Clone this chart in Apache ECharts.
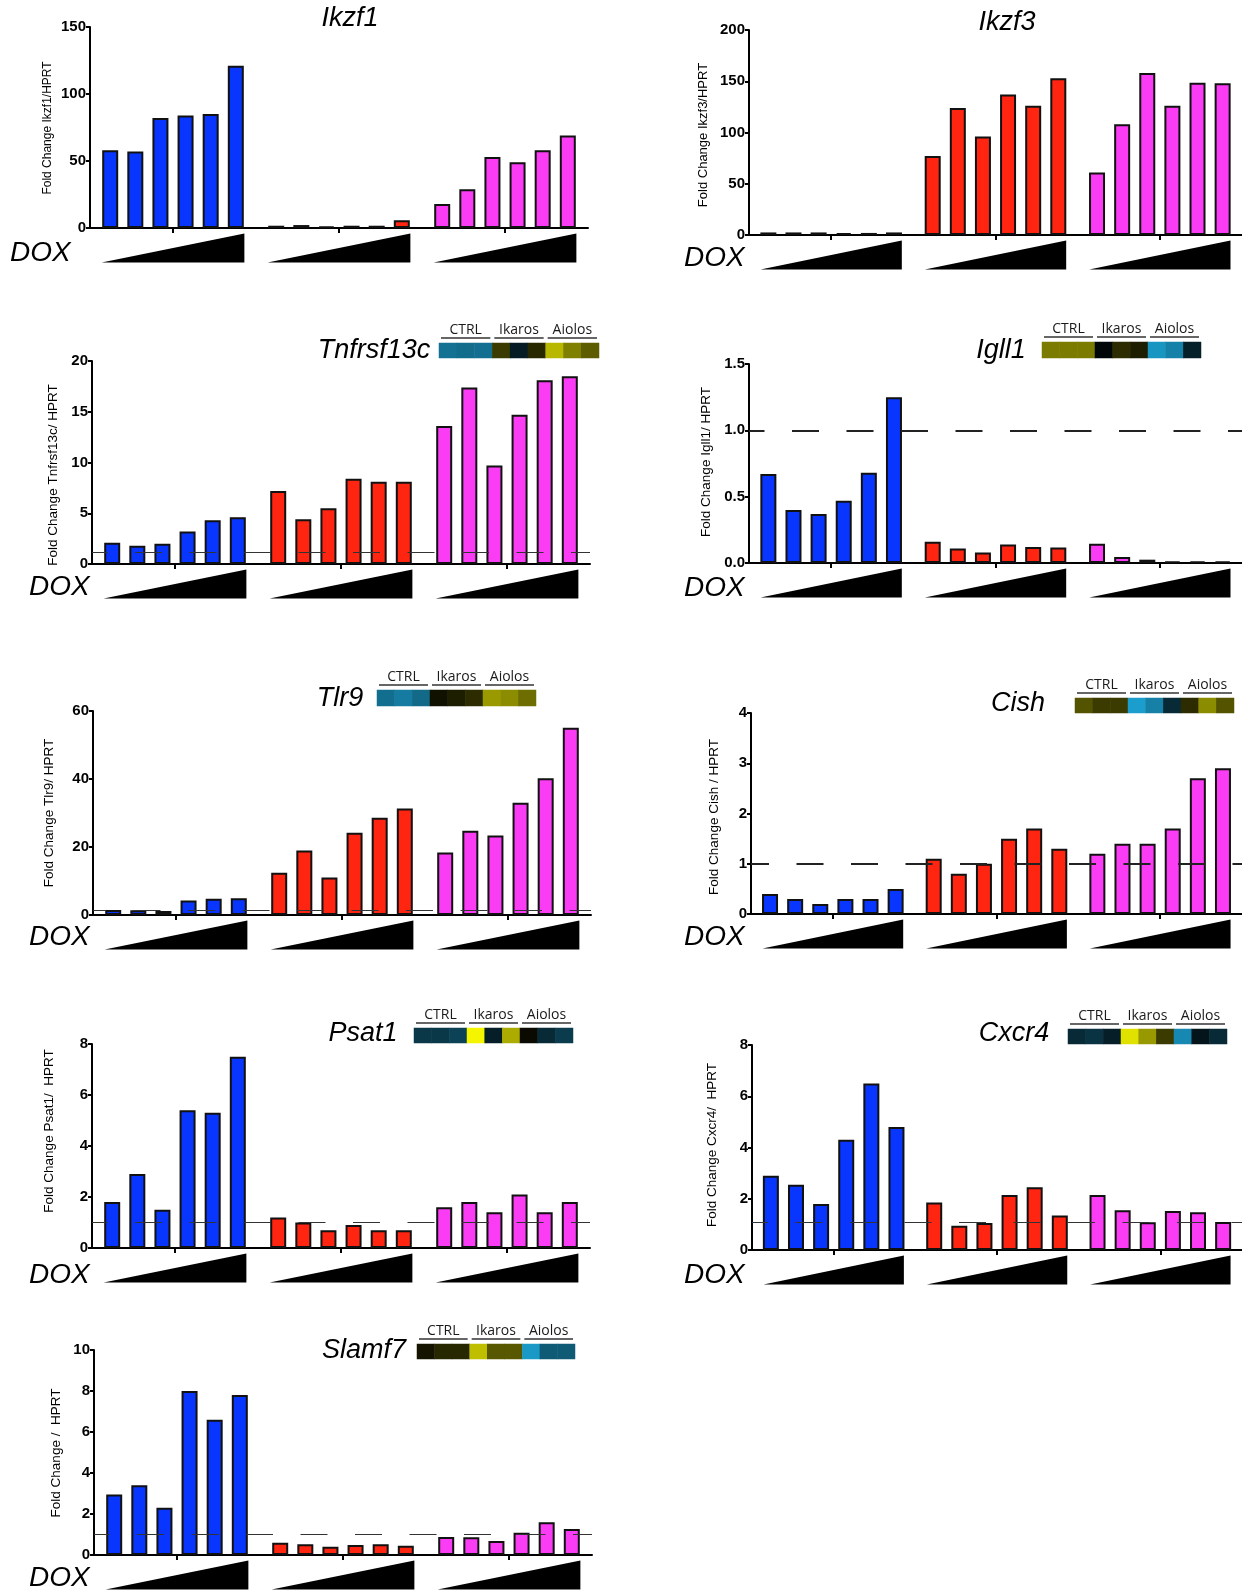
<!DOCTYPE html>
<html><head><meta charset="utf-8">
<script src="https://cdn.jsdelivr.net/npm/echarts@6/dist/echarts.min.js"></script>
<style>html,body{margin:0;padding:0;background:#fff}#c{width:1242px;height:1591px}</style>
</head><body><div id="c"></div>
<script>
// ---------- DATA ----------
const groups = ['CTRL', 'Ikaros', 'Aiolos'];
const doseLevels = ['d1', 'd2', 'd3', 'd4', 'd5', 'd6'];
const doseMax = [1, 1, 1];
const stripLabels = ['CTRL', 'Ikaros', 'Aiolos'];

const ikzf1Blue = [58, 57, 82, 84, 85, 121];
const ikzf1Red  = [1.7, 2.2, 1.0, 1.7, 1.7, 5.7];
const ikzf1Pink = [18, 29, 53, 49, 58, 69];
const ikzf1Ticks = [0, 50, 100, 150];

const ikzf3Blue = [2.5, 2.5, 2.5, 1.8, 2.0, 2.5];
const ikzf3Red  = [77, 124, 96, 137, 126, 153];
const ikzf3Pink = [61, 108, 158, 126, 148.5, 148];
const ikzf3Ticks = [0, 50, 100, 150, 200];

const tnfBlue = [2.1, 1.8, 2.0, 3.2, 4.3, 4.6];
const tnfRed  = [7.2, 4.4, 5.5, 8.4, 8.1, 8.1];
const tnfPink = [13.6, 17.4, 9.7, 14.7, 18.1, 18.5];
const tnfTicks = [0, 5, 10, 15, 20];
const tnfStrip = [-0.68, -0.65, -0.67, 0.24, -0.17, 0.16, 0.75, 0.52, 0.38];

const igll1Blue = [0.67, 0.40, 0.37, 0.47, 0.68, 1.25];
const igll1Red  = [0.16, 0.11, 0.08, 0.14, 0.12, 0.117];
const igll1Pink = [0.145, 0.045, 0.025, 0.01, 0.012, 0.012];
const igll1Ticks = [0, 0.5, 1.0, 1.5];
const igll1Strip = [0.5, 0.5, 0.5, -0.04, 0.18, 0.12, -0.9, -0.78, -0.19];

const tlr9Blue = [1.5, 1.4, 1.2, 4.3, 4.8, 4.9];
const tlr9Red  = [12.4, 19.0, 11.0, 24.2, 28.6, 31.3];
const tlr9Pink = [18.4, 24.8, 23.4, 33.0, 40.2, 55.1];
const tlr9Ticks = [0, 20, 40, 60];
const tlr9Strip = [-0.66, -0.74, -0.63, 0.07, 0.12, 0.18, 0.63, 0.57, 0.45];

const cishBlue = [0.4, 0.3, 0.2, 0.3, 0.3, 0.5];
const cishRed  = [1.1, 0.8, 1.0, 1.5, 1.7, 1.3];
const cishPink = [1.2, 1.4, 1.4, 1.7, 2.7, 2.9];
const cishTicks = [0, 1, 2, 3, 4];
const cishStrip = [0.34, 0.24, 0.24, -0.95, -0.77, -0.25, 0.18, 0.57, 0.34];

const psat1Blue = [1.8, 2.9, 1.5, 5.4, 5.3, 7.5];
const psat1Red  = [1.2, 1.0, 0.7, 0.9, 0.7, 0.7];
const psat1Pink = [1.6, 1.8, 1.4, 2.1, 1.4, 1.8];
const psat1Ticks = [0, 2, 4, 6, 8];
const psat1Strip = [-0.34, -0.34, -0.4, 1.0, -0.18, 0.7, 0.04, -0.25, -0.36];

const cxcr4Blue = [2.9, 2.55, 1.8, 4.3, 6.5, 4.8];
const cxcr4Red  = [1.85, 0.95, 1.05, 2.15, 2.45, 1.35];
const cxcr4Pink = [2.15, 1.55, 1.08, 1.52, 1.47, 1.09];
const cxcr4Ticks = [0, 2, 4, 6, 8];
const cxcr4Strip = [-0.25, -0.31, -0.18, 0.92, 0.62, 0.24, -0.82, -0.12, -0.25];

const slamf7Blue = [2.95, 3.4, 2.3, 8.0, 6.6, 7.8];
const slamf7Red  = [0.6, 0.52, 0.4, 0.49, 0.53, 0.45];
const slamf7Pink = [0.88, 0.86, 0.68, 1.09, 1.6, 1.27];
const slamf7Ticks = [0, 2, 4, 6, 8, 10];
const slamf7Strip = [0.08, 0.16, 0.16, 0.78, 0.36, 0.36, -0.92, -0.54, -0.54];

// ---------- LAYOUT / STYLE ----------
const groupColors = ['#0836FF', '#FF2510', '#FA3DF4'];
const W = 498;
const panels = [
  {gene:'Ikzf1', yName:'Fold Change Ikzf1/HPRT', vals:[ikzf1Blue, ikzf1Red, ikzf1Pink], ticks:ikzf1Ticks,
   left:90, top:27, zero:228, tx:350, tb:28.5, dx:10, db:263, nx:48, ny:128, ns:12, strip:null, ref:null},
  {gene:'Ikzf3', yName:'Fold Change Ikzf3/HPRT', vals:[ikzf3Blue, ikzf3Red, ikzf3Pink], ticks:ikzf3Ticks,
   left:749, top:30, zero:235, tx:1007, tb:32, dx:684, db:268, nx:703, ny:135, ns:13, strip:null, ref:null},
  {gene:'Tnfrsf13c', yName:'Fold Change Tnfrsf13c/ HPRT', vals:[tnfBlue, tnfRed, tnfPink], ticks:tnfTicks,
   left:92, top:361, zero:564, tx:374, tb:360, dx:29, db:597, nx:53, ny:475, ns:13.5,
   strip:{v:tnfStrip, l:439, t:343, w:160, h:15}, ref:{v:1.15, w:1, off:11.5}},
  {gene:'Igll1', yName:'Fold Change Igll1/ HPRT', vals:[igll1Blue, igll1Red, igll1Pink], ticks:igll1Ticks, dec:1,
   left:749, top:364, zero:563, tx:1001, tb:360, dx:684, db:598, nx:706, ny:462, ns:13.5,
   strip:{v:igll1Strip, l:1042, t:342, w:159, h:16}, ref:{v:1.0, w:2, off:11.5}},
  {gene:'Tlr9', yName:'Fold Change Tlr9/ HPRT', vals:[tlr9Blue, tlr9Red, tlr9Pink], ticks:tlr9Ticks,
   left:93, top:711, zero:915, tx:340, tb:708, dx:29, db:947, nx:49, ny:813, ns:13.5,
   strip:{v:tlr9Strip, l:377, t:690, w:159, h:16}, ref:{v:1.3, w:1, off:14}},
  {gene:'Cish', yName:'Fold Change Cish / HPRT', vals:[cishBlue, cishRed, cishPink], ticks:cishTicks,
   left:751, top:713, zero:914, tx:1018, tb:713, dx:684, db:947, nx:714, ny:817, ns:13.5,
   strip:{v:cishStrip, l:1075, t:698, w:159, h:15}, ref:{v:1.0, w:2, off:9}},
  {gene:'Psat1', yName:'Fold Change Psat1/  HPRT', vals:[psat1Blue, psat1Red, psat1Pink], ticks:psat1Ticks,
   left:92, top:1044, zero:1248, tx:363, tb:1043, dx:29, db:1285, nx:49, ny:1131, ns:13.5,
   strip:{v:psat1Strip, l:414, t:1028, w:159, h:15}, ref:{v:1.0, w:1, off:11.5}},
  {gene:'Cxcr4', yName:'Fold Change Cxcr4/  HPRT', vals:[cxcr4Blue, cxcr4Red, cxcr4Pink], ticks:cxcr4Ticks,
   left:752, top:1045, zero:1250, tx:1014, tb:1043, dx:684, db:1285, nx:712, ny:1145, ns:13.5,
   strip:{v:cxcr4Strip, l:1068, t:1029, w:159, h:15}, ref:{v:1.1, w:1, off:11}},
  {gene:'Slamf7', yName:'Fold Change /  HPRT', vals:[slamf7Blue, slamf7Red, slamf7Pink], ticks:slamf7Ticks,
   left:94, top:1350, zero:1555, tx:364, tb:1360, dx:29, db:1588, nx:56, ny:1453, ns:13.5,
   strip:{v:slamf7Strip, l:417, t:1344, w:158, h:15}, ref:{v:1.0, w:1, off:11.5}}
];

const tickFont = '"Liberation Sans Narrow", "Arial Narrow", "Liberation Sans", Arial, sans-serif';
const grids = [], xAxes = [], yAxes = [], series = [], graphics = [], heatIdx = [];

panels.forEach(p => {
  const gi = grids.length;
  grids.push({left:p.left, top:p.top, width:W, height:p.zero - p.top});
  xAxes.push({gridIndex:gi, type:'category', data:groups,
    axisLine:{show:true, lineStyle:{color:'#000', width:2}},
    axisTick:{show:true, alignWithLabel:true, length:5, lineStyle:{color:'#000', width:2}},
    axisLabel:{show:false}, splitLine:{show:false}});
  const t = p.ticks;
  yAxes.push({gridIndex:gi, type:'value', min:t[0], max:t[t.length-1], interval:t[1]-t[0],
    axisLine:{show:true, lineStyle:{color:'#000', width:2}},
    axisTick:{show:true, length:4, lineStyle:{color:'#000', width:2}},
    splitLine:{show:false},
    axisLabel:{margin:4, color:'#000', fontFamily:tickFont, fontWeight:'bold', fontSize:15,
      formatter: v => p.dec ? v.toFixed(p.dec) : String(v)}});
  doseLevels.forEach((d, di) => {
    const s = {type:'bar', xAxisIndex:gi, yAxisIndex:gi, barWidth:16, barGap:'57%',
      silent:true, animation:false,
      data: groups.map((g, gIdx) => ({value:p.vals[gIdx][di],
        itemStyle:{color:groupColors[gIdx], borderColor:'#111', borderWidth:2}}))};
    if (di === doseLevels.length - 1 && p.ref) {
      s.markLine = {silent:true, symbol:'none', animation:false, label:{show:false},
        lineStyle:{color:p.ref.w > 1 ? '#222' : '#333', width:p.ref.w, type:[27, 27.5], dashOffset:p.ref.off},
        data:[{yAxis:p.ref.v}]};
    }
    series.push(s);
  });

  const wi = grids.length;
  grids.push({left:p.left, top:p.zero + 5.5, width:W, height:29});
  xAxes.push({gridIndex:wi, type:'category', data:groups, show:false});
  yAxes.push({gridIndex:wi, type:'value', min:0, max:1, show:false});
  series.push({type:'custom', xAxisIndex:wi, yAxisIndex:wi, silent:true, animation:false,
    data: doseMax.map((v, i) => [i, v]),
    renderItem: (params, api) => {
      const x = api.value(0);
      const base = api.coord([x, 0]);
      const top = api.coord([x, api.value(1)]);
      const half = api.size([1, 0])[0] * 0.43;
      return {type:'polygon', shape:{points:[[base[0]-half, base[1]], [base[0]+half, base[1]], [base[0]+half, top[1]]]},
        style:{fill:'#000'}};
    }});

  if (p.strip) {
    const st = p.strip;
    const hi = grids.length;
    grids.push({left:st.l, top:st.t, width:st.w, height:st.h});
    xAxes.push({gridIndex:hi, type:'category', data:st.v.map((v, i) => 'c' + i), show:false});
    yAxes.push({gridIndex:hi, type:'category', data:['r'], show:false});
    heatIdx.push(series.length);
    series.push({type:'heatmap', xAxisIndex:hi, yAxisIndex:hi, silent:true, animation:false,
      data: st.v.map((v, i) => [i, 0, v])});
    const gw = st.w / 3;
    stripLabels.forEach((lab, g) => {
      graphics.push({type:'text', x:st.l + (g + 0.5) * gw, y:st.t - 13, silent:true,
        style:{text:lab, font:'14px "Open Sans", sans-serif', fill:'#1a1a1a', textAlign:'center', textVerticalAlign:'middle'}});
      graphics.push({type:'line', silent:true, shape:{x1:st.l + g*gw + 2, y1:st.t - 5, x2:st.l + (g+1)*gw - 2, y2:st.t - 5},
        style:{stroke:'#333', lineWidth:1.5}});
    });
  }

  graphics.push({type:'text', x:p.tx, y:p.tb - 9.7, silent:true,
    style:{text:p.gene, font:'italic 27px "Liberation Sans", Arial, sans-serif', fill:'#000', textAlign:'center', textVerticalAlign:'middle'}});
  graphics.push({type:'text', x:p.dx, y:p.db - 10, silent:true,
    style:{text:'DOX', font:'italic 28px "Liberation Sans", Arial, sans-serif', fill:'#000', textAlign:'left', textVerticalAlign:'middle'}});
  graphics.push({type:'text', x:p.nx, y:p.ny, rotation:Math.PI/2, silent:true,
    style:{text:p.yName, font:p.ns + 'px "Liberation Sans", Arial, sans-serif', fill:'#000', textAlign:'center', textVerticalAlign:'middle'}});
});

const chart = echarts.init(document.getElementById('c'), null, {renderer:'canvas'});
chart.setOption({
  backgroundColor:'#fff',
  animation:false,
  grid:grids, xAxis:xAxes, yAxis:yAxes, series:series,
  visualMap:{type:'continuous', show:false, min:-1, max:1, seriesIndex:heatIdx,
    inRange:{color:['#1ca6d8', '#000000', '#f5f500']}},
  graphic:graphics
});
</script></body></html>
